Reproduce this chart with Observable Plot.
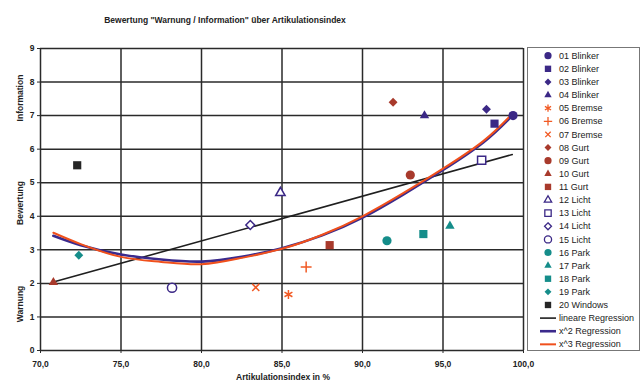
<!DOCTYPE html>
<html><head><meta charset="utf-8">
<script src="https://cdn.jsdelivr.net/npm/d3@7"></script>
<script src="https://cdn.jsdelivr.net/npm/@observablehq/plot@0.6"></script>
<style>
body{margin:0;background:#fff;font-family:"Liberation Sans",Arial,sans-serif;}
#wrap{position:relative;width:642px;height:381px;overflow:hidden;background:#fff;}
#wrap svg{position:absolute;left:0;top:0;}
</style></head><body><div id="wrap"></div>
<script>
// ---- data ----
const chartTitle = 'Bewertung "Warnung / Information" über Artikulationsindex';
const xLabel = "Artikulationsindex in %";
const yLabels = ["Information", "Bewertung", "Warnung"];
const seriesNames = ["01 Blinker","02 Blinker","03 Blinker","04 Blinker","05 Bremse","06 Bremse","07 Bremse",
  "08 Gurt","09 Gurt","10 Gurt","11 Gurt","12 Licht","13 Licht","14 Licht","15 Licht",
  "16 Park","17 Park","18 Park","19 Park","20 Windows"];
const artikulationsindex = [99.35, 98.2, 97.7, 93.85, 85.4, 86.5, 83.37, 91.9, 92.97, 70.8, 87.96,
  84.9, 97.4, 83.03, 78.17, 91.52, 95.43, 93.78, 72.38, 72.28];
const bewertung = [7.0, 6.76, 7.19, 7.0, 1.67, 2.49, 1.88, 7.4, 5.23, 2.03, 3.14,
  4.7, 5.67, 3.74, 1.87, 3.27, 3.71, 3.47, 2.84, 5.52];
const regressionNames = ["lineare Regression", "x^2 Regression", "x^3 Regression"];
const linX = [70.8, 99.3];
const linY = [2.04, 5.84];
const regX = [70.8, 72.5, 75, 77.5, 80, 82.5, 85, 87.5, 90, 92.5, 95, 97.5, 99.3];
const quadY = [3.42, 3.14, 2.86, 2.71, 2.65, 2.79, 3.05, 3.43, 3.96, 4.64, 5.38, 6.2, 7.0];
const cubicY = [3.51, 3.17, 2.79, 2.64, 2.57, 2.76, 3.03, 3.45, 4.0, 4.68, 5.42, 6.24, 7.05];
const xTicks = [70, 75, 80, 85, 90, 95, 100];
const yTicks = [0, 1, 2, 3, 4, 5, 6, 7, 8, 9];

// ---- styles ----
const seriesSymbols = ["circle","square","diamond2","triangle","asterisk","plus","times",
  "diamond2","circle","triangle","square","triangle","square","diamond2","circle",
  "circle","triangle","square","diamond2","square"];
const seriesGroup = ["b","b","b","b","r","r","r","g","g","g","g","b","b","b","b","p","p","p","p","w"];
const seriesFill = ["solid","solid","solid","solid","line","line","line","solid","solid","solid","solid",
  "open","open","open","open","solid","solid","solid","solid","solid"];
const groupColor = {b:"#3b2886", r:"#f15a24", g:"#a83a2c", p:"#158d8a", w:"#262626"};
const symbolR = {circle:4.6, square:4.6, diamond2:4.0, triangle:3.5, asterisk:4.3, plus:3.6, times:3.3};
const regColors = ["#1f1f1f", "#3b2a8c", "#f0501c"];
const regWidths = [1.6, 2.6, 2.0];
const gridColor = "#2a2a2a";

const idx = d3.range(seriesNames.length);
const colorOf = i => groupColor[seriesGroup[i]];
const dotMarks = Object.keys(symbolR).map(s => {
  const sel = idx.filter(i => seriesSymbols[i] === s);
  return Plot.dot(sel, {
    x: i => artikulationsindex[i], y: i => bewertung[i], symbol: s, r: symbolR[s],
    fill: i => seriesFill[i] === "solid" ? colorOf(i) : (seriesFill[i] === "open" ? "white" : "none"),
    stroke: i => seriesFill[i] === "solid" ? "none" : colorOf(i),
    strokeWidth: 1.5
  });
});

const fmt = d => d.toFixed(1).replace(".", ",");
const plot = Plot.plot({
  width: 642, height: 381,
  marginLeft: 40, marginRight: 119, marginTop: 48, marginBottom: 31,
  style: {fontFamily: '"Liberation Sans", Arial, sans-serif', fontSize: "8.5px", color: "#222", background: "transparent"},
  x: {domain: [70, 100]},
  y: {domain: [0, 9]},
  marks: [
    Plot.gridX(xTicks, {stroke: gridColor, strokeOpacity: 1, strokeWidth: 1.5}),
    Plot.gridY(yTicks, {stroke: gridColor, strokeOpacity: 1, strokeWidth: 1.5}),
    Plot.axisX({ticks: xTicks, tickFormat: fmt, tickSize: 3, tickPadding: 7, label: null, fontWeight: "bold", stroke: gridColor}),
    Plot.axisY({ticks: yTicks, tickSize: 3, tickPadding: 3, label: null, fontWeight: "bold", stroke: gridColor}),
    Plot.line(linY, {x: linX, y: linY, stroke: regColors[0], strokeWidth: regWidths[0]}),
    Plot.line(quadY, {x: regX, y: quadY, curve: "natural", stroke: regColors[1], strokeWidth: regWidths[1]}),
    Plot.line(cubicY, {x: regX, y: cubicY, curve: "natural", stroke: regColors[2], strokeWidth: regWidths[2]}),
    ...dotMarks
  ]
});
const wrap = document.getElementById("wrap");
wrap.appendChild(plot);

// ---- titles and legend ----
const ov = d3.select(wrap).append("svg").attr("width", 642).attr("height", 381)
  .style("font-family", '"Liberation Sans", Arial, sans-serif');
ov.append("text").attr("x", 225).attr("y", 23).attr("text-anchor", "middle")
  .attr("font-size", "8.5px").attr("font-weight", "bold").attr("fill", "#222").text(chartTitle);
ov.append("text").attr("x", 283).attr("y", 380).attr("text-anchor", "middle")
  .attr("font-size", "8.5px").attr("font-weight", "bold").attr("fill", "#222").text(xLabel);
const yLabPos = [98, 203, 304];
yLabels.forEach((t, k) => {
  ov.append("text").attr("transform", `translate(23,${yLabPos[k]}) rotate(-90)`)
    .attr("text-anchor", "middle").attr("font-size", "8.5px").attr("font-weight", "bold")
    .attr("fill", "#222").text(t);
});

const lg = ov.append("g");
lg.append("rect").attr("x", 527.5).attr("y", 47.5).attr("width", 112).attr("height", 303)
  .attr("fill", "white").attr("stroke", "#777").attr("stroke-width", 1);
const symMap = {circle: d3.symbolCircle, square: d3.symbolSquare, diamond2: d3.symbolDiamond2,
  triangle: d3.symbolTriangle, asterisk: d3.symbolAsterisk, plus: d3.symbolPlus, times: d3.symbolTimes};
const rowY = k => 55.7 + k * 13.12;
idx.forEach(i => {
  const y = rowY(i);
  const r = symbolR[seriesSymbols[i]] * 0.78;
  const f = seriesFill[i];
  lg.append("path").attr("transform", `translate(548,${y})`)
    .attr("d", d3.symbol(symMap[seriesSymbols[i]], Math.PI * r * r)())
    .attr("fill", f === "solid" ? colorOf(i) : (f === "open" ? "white" : "none"))
    .attr("stroke", f === "solid" ? "none" : colorOf(i)).attr("stroke-width", 1.3);
  lg.append("text").attr("x", 559).attr("y", y).attr("dy", "0.35em").attr("font-size", "9px")
    .attr("fill", "#222").text(seriesNames[i]);
});
regressionNames.forEach((t, k) => {
  const y = rowY(seriesNames.length + k);
  lg.append("line").attr("x1", 540).attr("x2", 556).attr("y1", y).attr("y2", y)
    .attr("stroke", regColors[k]).attr("stroke-width", regWidths[k]);
  lg.append("text").attr("x", 559).attr("y", y).attr("dy", "0.35em").attr("font-size", "9px")
    .attr("fill", "#222").text(t);
});
</script></body></html>
